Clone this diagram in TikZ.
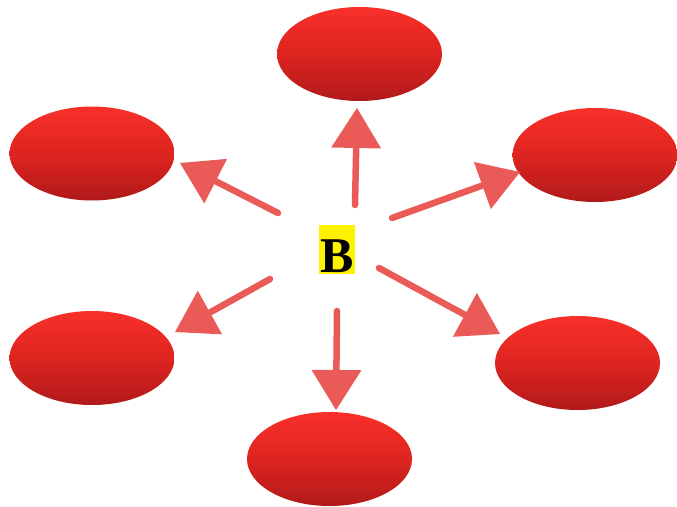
\documentclass[tikz,border=0pt]{standalone}
\usepackage{fontspec}
\setmainfont{Liberation Serif}
\usetikzlibrary{shapes.geometric,arrows.meta}
\definecolor{elltop}{HTML}{F8302A}
\definecolor{ellmid}{HTML}{DE2420}
\definecolor{ellbot}{HTML}{B01A1A}
\definecolor{chalk}{HTML}{EA5A57}
\tikzset{
  blob/.style={ellipse, minimum width=165pt, minimum height=94pt, inner sep=0pt,
    top color=elltop, bottom color=ellbot, middle color=ellmid},
  chalkarrow/.style={draw=chalk, line width=6.5pt, line cap=round,
    -{Triangle[length=40pt,width=50pt,line width=0pt]}, color=chalk},
  label box/.style={fill=yellow, inner sep=0pt, minimum width=36pt,
    text height=47pt, text depth=2pt, font=\fontsize{50pt}{50pt}\selectfont\bfseries}
}
\begin{document}
\begin{tikzpicture}[x=1pt,y=-1pt]
\useasboundingbox (0,0) rectangle (677,506);
\node[blob] (top) at (359.5,54) {};
\node[blob] (ul) at (92,153.5) {};
\node[blob] (ur) at (595,155) {};
\node[blob] (ll) at (92,358) {};
\node[blob] (lr) at (577.5,363) {};
\node[blob] (bot) at (329.5,459) {};
\node[label box, anchor=base] (B) at (337,272) {B};
\coordinate (tU) at (355,205);   \coordinate (hU) at (357,108);
\coordinate (tUL) at (278,213);  \coordinate (hUL) at (180,163);
\coordinate (tUR) at (392,218);  \coordinate (hUR) at (520,172);
\coordinate (tLL) at (270,279);  \coordinate (hLL) at (175,332);
\coordinate (tD) at (337,311);   \coordinate (hD) at (336,410);
\coordinate (tLR) at (379,268);  \coordinate (hLR) at (500,334);
\draw[chalkarrow] (tU) -- (hU);
\draw[chalkarrow] (tUL) -- (hUL);
\draw[chalkarrow] (tUR) -- (hUR);
\draw[chalkarrow] (tLL) -- (hLL);
\draw[chalkarrow] (tD) -- (hD);
\draw[chalkarrow] (tLR) -- (hLR);
\end{tikzpicture}
\end{document}
